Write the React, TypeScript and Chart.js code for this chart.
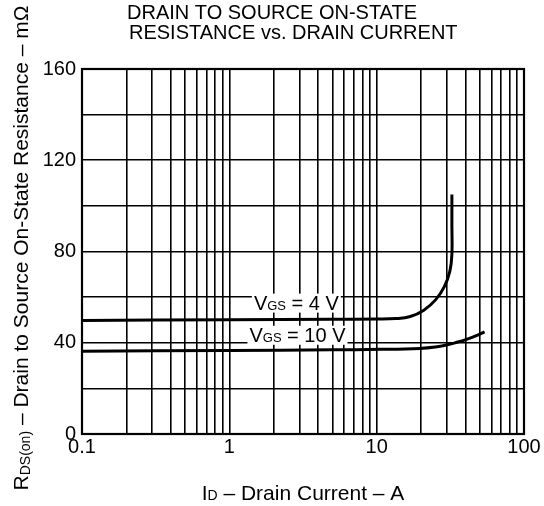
import React, { useEffect, useRef } from 'react';
import { Chart, registerables } from 'chart.js';

Chart.register(...registerables);

const FONT = '"Liberation Sans", Arial, Helvetica, sans-serif';

// Series: V_GS = 4 V
const current4 = [0.1, 1, 5, 10, 13.5, 16.9, 20.9, 25.1, 28.8, 31.4, 32.4, 32.4, 32.4];
const rds4 = [49.8, 50.1, 50.3, 50.4, 50.6, 51.5, 54.3, 58.8, 64.6, 71.4, 78.7, 91.9, 105];

// Series: V_GS = 10 V
const current10 = [0.1, 1, 5, 10.5, 19.6, 25, 29.8, 35, 40.7, 47, 54];
const rds10 = [36.3, 36.6, 36.9, 37.1, 37.5, 38.1, 39, 40.2, 41.5, 43, 44.8];

// Curve labels
const labelVgs = ['4 V', '10 V'];
const labelCurrent = [2.85, 2.9];
const labelRds = [57.6, 43.5];

// Axes
const xGridValues = [
  0.1, 0.2, 0.3, 0.4, 0.5, 0.6, 0.7, 0.8, 0.9,
  1, 2, 3, 4, 5, 6, 7, 8, 9,
  10, 20, 30, 40, 50, 60, 70, 80, 90, 100,
];
const xLabelValues = [0.1, 1, 10, 100];
const xTickLabels = ['0.1', '1', '10', '100'];
const yLabelValues = [0, 40, 80, 120, 160];
const yTickLabels = ['0', '40', '80', '120', '160'];

const titleLines = ['DRAIN TO SOURCE ON-STATE', 'RESISTANCE vs. DRAIN CURRENT'];

type Part = { t: string; s: number; dy?: number };

function measureParts(ctx: CanvasRenderingContext2D, parts: Part[]) {
  const widths = parts.map((p) => {
    ctx.font = `${p.s}px ${FONT}`;
    return ctx.measureText(p.t).width;
  });
  return { widths, total: widths.reduce((a, b) => a + b, 0) };
}

function drawParts(
  ctx: CanvasRenderingContext2D,
  parts: Part[],
  x: number,
  y: number,
  align: 'left' | 'center'
) {
  const { widths, total } = measureParts(ctx, parts);
  let cx = align === 'center' ? x - total / 2 : x;
  ctx.textAlign = 'left';
  ctx.textBaseline = 'alphabetic';
  parts.forEach((p, i) => {
    ctx.font = `${p.s}px ${FONT}`;
    ctx.fillText(p.t, cx, y + (p.dy || 0));
    cx += widths[i];
  });
  return total;
}

const decorPlugin = {
  id: 'decor',
  afterDatasetsDraw(chart: any) {
    const ctx: CanvasRenderingContext2D = chart.ctx;
    const xs = chart.scales.x;
    const ys = chart.scales.y;
    const area = chart.chartArea;
    ctx.save();
    // curve labels with white background
    labelVgs.forEach((v, i) => {
      const cx = xs.getPixelForValue(labelCurrent[i]);
      const cy = ys.getPixelForValue(labelRds[i]);
      const parts: Part[] = [
        { t: 'V', s: 20 },
        { t: 'GS', s: 13 },
        { t: ' = ' + v, s: 20 },
      ];
      const { total } = measureParts(ctx, parts);
      ctx.fillStyle = '#fff';
      ctx.fillRect(cx - total / 2 - 2, cy - 9, total + 4, 19);
      ctx.fillStyle = '#000';
      drawParts(ctx, parts, cx, cy + 7, 'center');
    });
    // frame
    ctx.strokeStyle = '#000';
    ctx.lineWidth = 2.2;
    ctx.strokeRect(area.left, area.top, area.right - area.left, area.bottom - area.top);
    ctx.restore();
  },
  afterDraw(chart: any) {
    const ctx: CanvasRenderingContext2D = chart.ctx;
    const area = chart.chartArea;
    ctx.save();
    ctx.fillStyle = '#000';
    // title
    ctx.font = `20px ${FONT}`;
    ctx.textAlign = 'left';
    ctx.textBaseline = 'alphabetic';
    ctx.fillText(titleLines[0], 127, 19);
    ctx.fillText(titleLines[1], 129, 39);
    // x title
    drawParts(
      ctx,
      [
        { t: 'I', s: 21 },
        { t: 'D', s: 14 },
        { t: ' – Drain Current – A', s: 21 },
      ],
      (area.left + area.right) / 2,
      500,
      'center'
    );
    // y title (rotated)
    ctx.translate(28, 248);
    ctx.rotate(-Math.PI / 2);
    drawParts(
      ctx,
      [
        { t: 'R', s: 21 },
        { t: 'DS(on)', s: 14, dy: 2 },
        { t: ' – Drain to Source On-State Resistance – mΩ', s: 21 },
      ],
      0,
      0,
      'center'
    );
    ctx.restore();
  },
};

export default function App() {
  const canvasRef = useRef<HTMLCanvasElement | null>(null);

  useEffect(() => {
    if (!canvasRef.current) return;
    const chart = new Chart(canvasRef.current, {
      type: 'line',
      data: {
        datasets: [
          {
            label: 'VGS = 4 V',
            data: current4.map((x, i) => ({ x, y: rds4[i] })),
            borderColor: '#000',
            borderWidth: 3,
            pointRadius: 0,
            fill: false,
            tension: 0.4,
          },
          {
            label: 'VGS = 10 V',
            data: current10.map((x, i) => ({ x, y: rds10[i] })),
            borderColor: '#000',
            borderWidth: 3,
            pointRadius: 0,
            fill: false,
            tension: 0.4,
          },
        ],
      },
      options: {
        animation: false,
        responsive: true,
        maintainAspectRatio: false,
        layout: { padding: { left: 0, top: 69, right: 20, bottom: 0 } },
        plugins: {
          legend: { display: false },
          title: { display: false },
          tooltip: { enabled: false },
        },
        scales: {
          x: {
            type: 'logarithmic',
            min: 0.1,
            max: 100,
            afterBuildTicks: (scale: any) => {
              scale.ticks = xGridValues.map((v) => ({ value: v }));
            },
            afterFit: (scale: any) => {
              scale.height = 72;
            },
            ticks: {
              autoSkip: false,
              maxRotation: 0,
              minRotation: 0,
              padding: 1,
              color: '#000',
              font: { family: FONT, size: 20 },
              callback: (value: any) => {
                const idx = xLabelValues.findIndex((v) => Math.abs(v - Number(value)) < 1e-9);
                return idx >= 0 ? xTickLabels[idx] : '';
              },
            },
            grid: { color: '#000', lineWidth: 1.6, drawTicks: false },
            border: { display: false },
          },
          y: {
            type: 'linear',
            min: 0,
            max: 160,
            afterFit: (scale: any) => {
              scale.width = 82;
            },
            ticks: {
              stepSize: 20,
              padding: 6,
              color: '#000',
              font: { family: FONT, size: 20 },
              callback: (value: any) => {
                const idx = yLabelValues.indexOf(Number(value));
                return idx >= 0 ? yTickLabels[idx] : '';
              },
            },
            grid: { color: '#000', lineWidth: 1.6, drawTicks: false },
            border: { display: false },
          },
        },
      },
      plugins: [decorPlugin],
    } as any);
    return () => chart.destroy();
  }, []);

  return (
    <div style={{ position: 'fixed', left: 0, top: 0, width: 544, height: 506, background: '#fff' }}>
      <canvas ref={canvasRef} />
    </div>
  );
}
